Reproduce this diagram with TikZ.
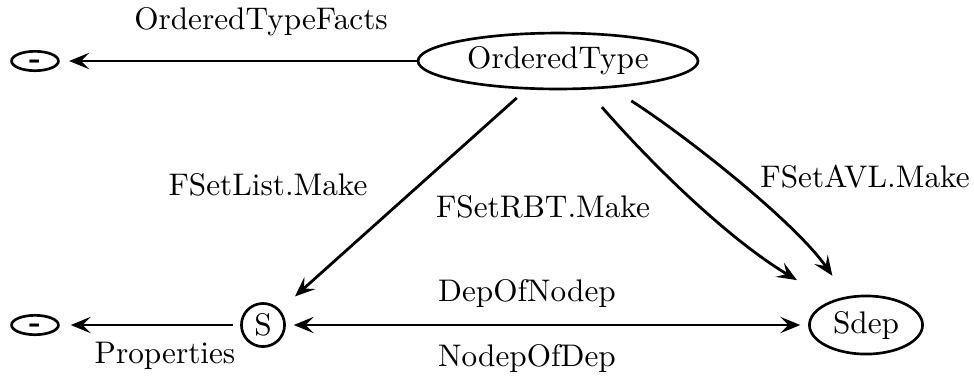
\documentclass[tikz,border=0pt]{standalone}
\usetikzlibrary{shapes.geometric,arrows.meta}
\newcommand{\mydash}{\smash{\raisebox{-2.4pt}{\textbf{-}}}}
\tikzset{
  ell/.style={draw, ellipse, line width=0.85pt, inner sep=0pt},
  circ/.style={draw, circle, line width=0.85pt, inner sep=0pt},
  lbl/.style={inner sep=0pt, anchor=center},
  arr/.style={line width=0.9pt, -{Stealth[length=6.4pt,width=5.2pt,inset=2.6pt]}},
  darr/.style={line width=0.9pt, {Stealth[length=6.4pt,width=5.2pt,inset=2.6pt]}-{Stealth[length=6.4pt,width=5.2pt,inset=2.6pt]}}
}
\begin{document}
\begin{tikzpicture}[x=0.32pt,y=-0.32pt]
\useasboundingbox (0,0) rectangle (974,381);
% nodes
\node[ell, minimum width=15pt, minimum height=6.2pt] (e1) at (35,61) {\mydash};
\node[ell, minimum width=89.6pt, minimum height=17.9pt] (OT) at (558,61) {OrderedType};
\node[ell, minimum width=15pt, minimum height=6.2pt] (e2) at (35,325) {\mydash};
\node[circ, minimum size=13.8pt] (S) at (263,325) {S};
\node[ell, minimum width=36.2pt, minimum height=18.6pt] (Sdep) at (866,325) {Sdep};
% labels
\node[lbl] (lOTF) at (261,22) {OrderedTypeFacts};
\node[lbl] (lList) at (268,185) {FSetList.Make};
\node[lbl] (lRBT) at (543,207) {FSetRBT.Make};
\node[lbl] (lAVL) at (865,177) {FSetAVL.Make};
\node[lbl] (lDep) at (527,294) {DepOfNodep};
\node[lbl] (lNod) at (527,358) {NodepOfDep};
\node[lbl] (lProp) at (165,356) {Properties};
% edges
\draw[arr, shorten <=0pt, shorten >=3pt] (OT) -- (e1);
\draw[arr, shorten <=2.3pt, shorten >=3.5pt] (S) -- (e2);
\draw[darr, shorten <=2.5pt, shorten >=2.5pt] (S) -- (Sdep);
\draw[arr, shorten <=4pt, shorten >=6.4pt] (OT) -- (S);
\draw[arr, shorten <=7.4pt, shorten >=12.8pt] (OT.-45) .. controls (655,168) and (730,240) .. (Sdep.145);
\draw[arr, shorten <=7.6pt, shorten >=8pt] (OT.-27) .. controls (685,135) and (795,222) .. (Sdep.124);
\end{tikzpicture}
\end{document}
